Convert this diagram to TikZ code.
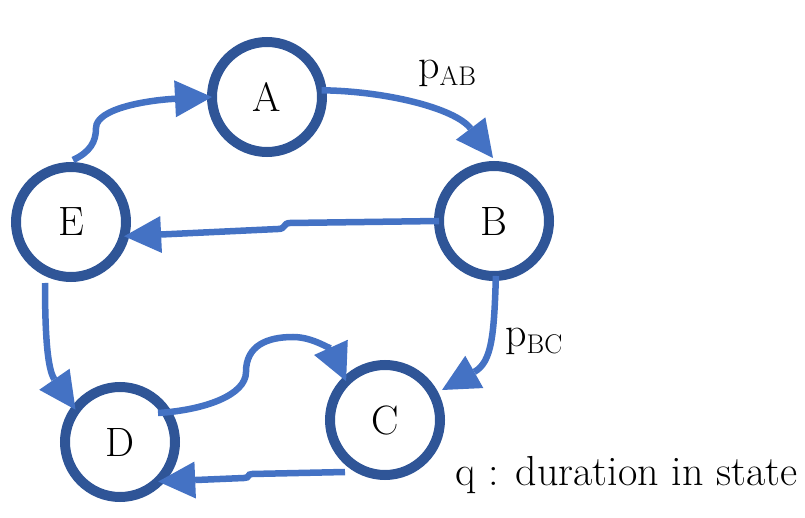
\documentclass[tikz,border=0pt]{standalone}
\usetikzlibrary{arrows.meta,calc}
\definecolor{ringc}{HTML}{2F5597}
\definecolor{arrc}{HTML}{4472C4}
\begin{document}
\begin{tikzpicture}[x=1pt,y=-1pt,
  state/.style={circle,draw=ringc,line width=10pt,minimum size=110pt,inner sep=0pt,outer sep=0pt,font=\fontsize{41}{44}\selectfont},
  conn/.style={draw=arrc,line width=6.5pt,-{Triangle[length=37pt,width=37pt,line width=0pt]}},
  lbl/.style={anchor=base west,inner sep=0pt,font=\fontsize{42}{44}\selectfont}]
\useasboundingbox (0,0) rectangle (805,518);
\node[state] (A) at (267,97) {A};
\node[state] (B) at (494,221) {B};
\node[state] (E) at (71,222) {E};
\node[state] (C) at (385,420) {C};
\node[state] (D) at (120,442) {D};

\draw[conn] ($(E)+(2,-62)$) .. controls (90,152) and (96,142) .. (96,128)
   .. controls (96,108) and (150,100) .. (A.west);
\draw[conn] (A.7) .. controls (385,91) and (455,108) .. ($(B)+(-1,-63)$);
\draw[conn] (B.west) -- (290,223) .. controls (283,223) and (286,229) .. (278,229) -- (E.-15);
\draw[conn] (B.-88) .. controls (494,335) and (492,362) .. ($(C)+(57,-30)$);
\draw[conn] ($(E)+(-26,61)$) .. controls (45,340) and (48,370) .. (D.144);
\draw[conn] ($(D)+(38,-29)$) .. controls (205,410) and (246,395) .. (246,372)
   .. controls (246,345) and (268,337) .. (293,337)
   .. controls (315,337) and (333,352) .. (C.135);
\draw[conn] ($(C)+(-40,52)$) -- (252,474) .. controls (247,474) and (250,478) .. (244,478) -- (D.-46);

\node[lbl] (pab) at (418,79) {p\raisebox{-7pt}{\fontsize{27}{27}\selectfont AB}};
\node[lbl] (pbc) at (505,346) {p\raisebox{-7pt}{\fontsize{27}{27}\selectfont BC}};
\node[lbl] (q) at (455,485) {q : duration in state};
\end{tikzpicture}
\end{document}
